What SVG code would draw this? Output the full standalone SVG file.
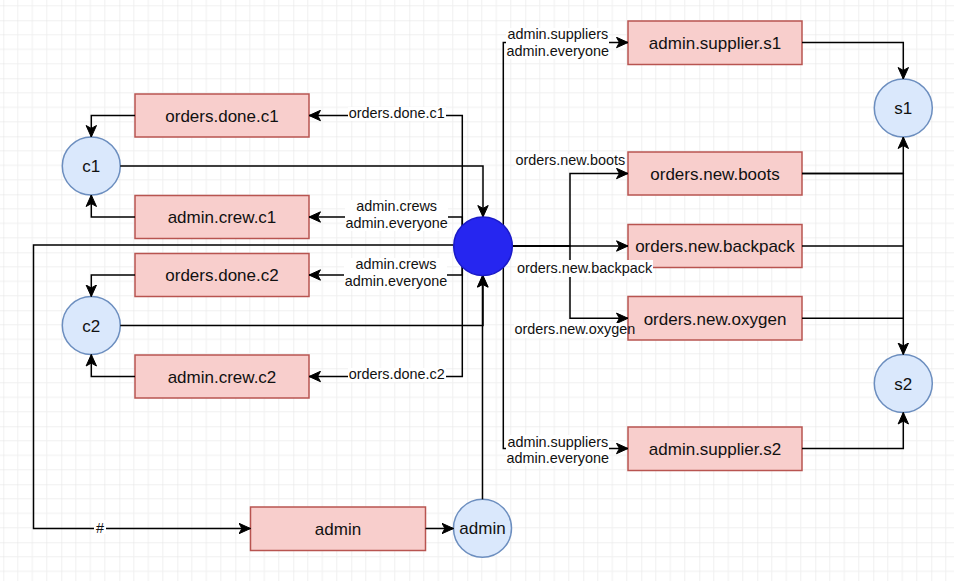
<svg xmlns="http://www.w3.org/2000/svg" width="954" height="581" viewBox="0 0 954 581">
<style>
.rn{fill:#f8cecc;stroke:#b85450;stroke-width:1.5}
.cn{fill:#dae8fc;stroke:#6c8ebf;stroke-width:1.5}
.nt{font-family:"Liberation Sans",Arial,sans-serif;font-size:17px;fill:#111;text-anchor:middle}
.e{fill:none;stroke:#000;stroke-width:1.5}
.ea{fill:none;stroke:#000;stroke-width:1.5;marker-end:url(#arr)}
.lt{font-family:"Liberation Sans",Arial,sans-serif;font-size:14.4px;fill:#111;text-anchor:middle}
.lb{fill:#fff}
</style>
<defs>
<marker id="arr" markerUnits="userSpaceOnUse" markerWidth="14" markerHeight="12" viewBox="-12 -6 14 12" refX="0" refY="0" orient="auto">
<path d="M-11.5,-5.2 L0,0 L-11.5,5.2 L-8.6,0 Z" fill="#000" stroke="#000" stroke-width="1"/>
</marker>
<pattern id="grid" patternUnits="userSpaceOnUse" x="3.3" y="20.3" width="58" height="58">
<path d="M14.5,0V58M29,0V58M43.5,0V58M0,14.5H58M0,29H58M0,43.5H58" stroke="#f0f0f0" stroke-width="1" fill="none"/>
<path d="M0,0V58M0,0H58" stroke="#e2e2e2" stroke-width="1" fill="none"/>
</pattern>
</defs>
<rect x="0" y="0" width="954" height="581" fill="#fff"/>
<rect x="0" y="0" width="954" height="581" fill="url(#grid)"/>

<g id="node-orders-done-c1"><rect class="rn" x="135" y="94" width="174" height="43"/><text class="nt" x="222" y="121.5">orders.done.c1</text></g>
<g id="node-admin-crew-c1"><rect class="rn" x="135" y="195.5" width="174" height="43"/><text class="nt" x="222" y="223">admin.crew.c1</text></g>
<g id="node-orders-done-c2"><rect class="rn" x="135" y="253.5" width="174" height="43"/><text class="nt" x="222" y="281">orders.done.c2</text></g>
<g id="node-admin-crew-c2"><rect class="rn" x="135" y="355" width="174" height="43"/><text class="nt" x="222" y="382.5">admin.crew.c2</text></g>
<g id="node-admin-supplier-s1"><rect class="rn" x="628" y="21" width="174" height="43.5"/><text class="nt" x="715" y="48.5">admin.supplier.s1</text></g>
<g id="node-orders-new-boots"><rect class="rn" x="628" y="152" width="174" height="43"/><text class="nt" x="715" y="179.5">orders.new.boots</text></g>
<g id="node-orders-new-backpack"><rect class="rn" x="628" y="224.5" width="174" height="43"/><text class="nt" x="715" y="252">orders.new.backpack</text></g>
<g id="node-orders-new-oxygen"><rect class="rn" x="628" y="296.5" width="174" height="43.5"/><text class="nt" x="715" y="324.5">orders.new.oxygen</text></g>
<g id="node-admin-supplier-s2"><rect class="rn" x="628" y="427" width="174" height="43.5"/><text class="nt" x="715" y="454.5">admin.supplier.s2</text></g>
<g id="node-admin-rect"><rect class="rn" x="250.5" y="507" width="175" height="43.5"/><text class="nt" x="338" y="534.5">admin</text></g>
<g id="node-c1"><circle class="cn" cx="91.3" cy="166" r="29"/><text class="nt" x="91.3" y="172">c1</text></g>
<g id="node-c2"><circle class="cn" cx="91.3" cy="325.5" r="29"/><text class="nt" x="91.3" y="331.5">c2</text></g>
<g id="node-s1"><circle class="cn" cx="903.3" cy="108" r="29"/><text class="nt" x="903.3" y="114">s1</text></g>
<g id="node-s2"><circle class="cn" cx="903.3" cy="383.5" r="29"/><text class="nt" x="903.3" y="389.5">s2</text></g>
<g id="node-admin-circle"><circle class="cn" cx="482.5" cy="528.3" r="29"/><text class="nt" x="482.5" y="534.3">admin</text></g>

<g id="connectors">
<path class="ea" d="M135,115.5H91.3V137"/>
<path class="ea" d="M135,217H91.3V195"/>
<path class="ea" d="M135,275H91.3V296.5"/>
<path class="ea" d="M135,376.5H91.3V354.5"/>
<path class="ea" d="M120.3,166H483V217"/>
<path class="ea" d="M120.3,325.5H483V275.6"/>
<path class="ea" d="M482.5,499.3V275.6"/>
<path class="ea" d="M462.3,246V115.5H309"/>
<path class="ea" d="M462.3,246V217H309"/>
<path class="ea" d="M462.3,246V275H309"/>
<path class="ea" d="M462.3,246V376.5H309"/>
<path class="ea" d="M453.7,245H33.5V528.5H250.5"/>
<path class="ea" d="M425.5,528.5H453.5"/>
<path class="ea" d="M503.3,246V42.5H628"/>
<path class="ea" d="M503.3,246V448.5H628"/>
<path class="ea" d="M512,246H628"/>
<path class="ea" d="M512,246H570V173.5H628"/>
<path class="ea" d="M512,246H570V318.3H628"/>
<path class="ea" d="M802,42.5H903.3V79"/>
<path class="ea" d="M802,173.5H903.3V137"/>
<path class="ea" d="M802,173.5H903.3V354.5"/>
<path class="e" d="M802,246H903.3"/>
<path class="e" d="M802,318.3H903.3"/>
<path class="ea" d="M802,448.5H903.3V412.5"/>

<rect class="lb" x="348" y="107" width="98" height="14"/>
<text class="lt" x="396.7" y="118.3">orders.done.c1</text>
<rect class="lb" x="345" y="200" width="103" height="31"/>
<text class="lt" x="396.7" y="211">admin.crews</text>
<text class="lt" x="396.7" y="227.7">admin.everyone</text>
<rect class="lb" x="344" y="258" width="103" height="31"/>
<text class="lt" x="396" y="269">admin.crews</text>
<text class="lt" x="396" y="285.7">admin.everyone</text>
<rect class="lb" x="348" y="368" width="98" height="14"/>
<text class="lt" x="396.7" y="379">orders.done.c2</text>
<rect class="lb" x="506" y="28" width="103" height="31"/>
<text class="lt" x="557.8" y="39.3">admin.suppliers</text>
<text class="lt" x="557.8" y="56">admin.everyone</text>
<rect class="lb" x="506" y="435" width="103" height="31"/>
<text class="lt" x="557.8" y="446.5">admin.suppliers</text>
<text class="lt" x="557.8" y="463.2">admin.everyone</text>
<rect class="lb" x="515" y="154" width="111" height="14"/>
<text class="lt" x="570.3" y="165">orders.new.boots</text>
<rect class="lb" x="516" y="260" width="137" height="17"/>
<text class="lt" x="584.5" y="273.3">orders.new.backpack</text>
<rect class="lb" x="514" y="323" width="113" height="15"/>
<text class="lt" x="574.8" y="334.3">orders.new.oxygen</text>
<rect class="lb" x="94" y="520" width="12" height="14"/>
<text class="lt" x="100" y="533">#</text>
</g>

<g id="node-exchange"><circle cx="483" cy="246.3" r="29.3" fill="#2626F0" stroke="#1a1ac8" stroke-width="1.5"/></g>
</svg>
